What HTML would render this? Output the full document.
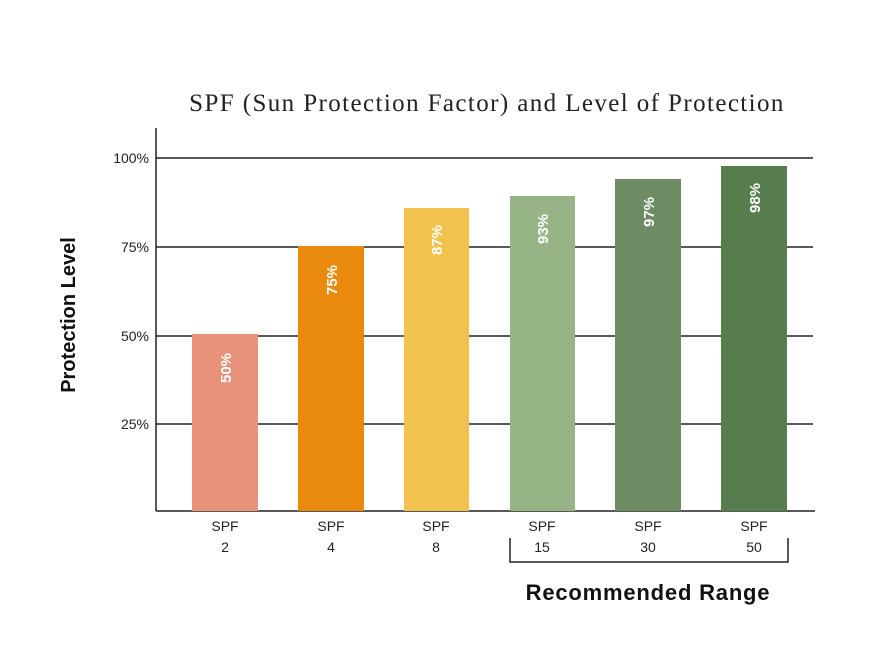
<!DOCTYPE html>
<html><head><meta charset="utf-8"><style>
body{margin:0;background:#fff;}
svg text{font-family:"Liberation Sans",sans-serif;}
</style></head><body>
<svg width="895" height="660" xmlns="http://www.w3.org/2000/svg">
<rect width="895" height="660" fill="#fff"/>
<text x="487" y="111" text-anchor="middle" font-size="25" letter-spacing="1.4" fill="#222" style="font-family:'Liberation Serif',serif">SPF (Sun Protection Factor) and Level of Protection</text>
<g stroke="#222" stroke-width="1.5">
<line x1="156" y1="158" x2="813" y2="158"/>
<line x1="156" y1="247" x2="813" y2="247"/>
<line x1="156" y1="336" x2="813" y2="336"/>
<line x1="156" y1="424" x2="813" y2="424"/>
<line x1="156" y1="511" x2="815" y2="511"/>
<line x1="156" y1="128" x2="156" y2="511"/>
</g>
<g font-size="14" fill="#222" text-anchor="end">
<text x="149" y="163">100%</text>
<text x="149" y="252">75%</text>
<text x="149" y="341">50%</text>
<text x="149" y="429">25%</text>
</g>
<text transform="translate(75,315) rotate(-90)" text-anchor="middle" font-size="20" font-weight="bold" fill="#111">Protection Level</text>
<rect x="192" y="334" width="66" height="177" fill="#e8927c"/>
<rect x="298" y="246" width="66" height="265" fill="#ea8a0c"/>
<rect x="404" y="208" width="65" height="303" fill="#f2c24e"/>
<rect x="510" y="196" width="65" height="315" fill="#97b486"/>
<rect x="615" y="179" width="66" height="332" fill="#6e8c63"/>
<rect x="721" y="166" width="66" height="345" fill="#577d4e"/>
<g font-size="15" font-weight="bold" fill="#fff" text-anchor="middle">
<text transform="translate(231,368) rotate(-90)">50%</text>
<text transform="translate(337,280) rotate(-90)">75%</text>
<text transform="translate(442,240) rotate(-90)">87%</text>
<text transform="translate(548,229) rotate(-90)">93%</text>
<text transform="translate(654,212) rotate(-90)">97%</text>
<text transform="translate(760,198) rotate(-90)">98%</text>
</g>
<g font-size="14" fill="#222" text-anchor="middle">
<text x="225" y="531">SPF</text><text x="225" y="552">2</text>
<text x="331" y="531">SPF</text><text x="331" y="552">4</text>
<text x="436" y="531">SPF</text><text x="436" y="552">8</text>
<text x="542" y="531">SPF</text><text x="542" y="552">15</text>
<text x="648" y="531">SPF</text><text x="648" y="552">30</text>
<text x="754" y="531">SPF</text><text x="754" y="552">50</text>
</g>
<path d="M510 538 V562 H788 V538" fill="none" stroke="#222" stroke-width="1.5"/>
<text x="648" y="600" text-anchor="middle" font-size="22" letter-spacing="0.8" font-weight="bold" fill="#111">Recommended Range</text>
</svg>
</body></html>
